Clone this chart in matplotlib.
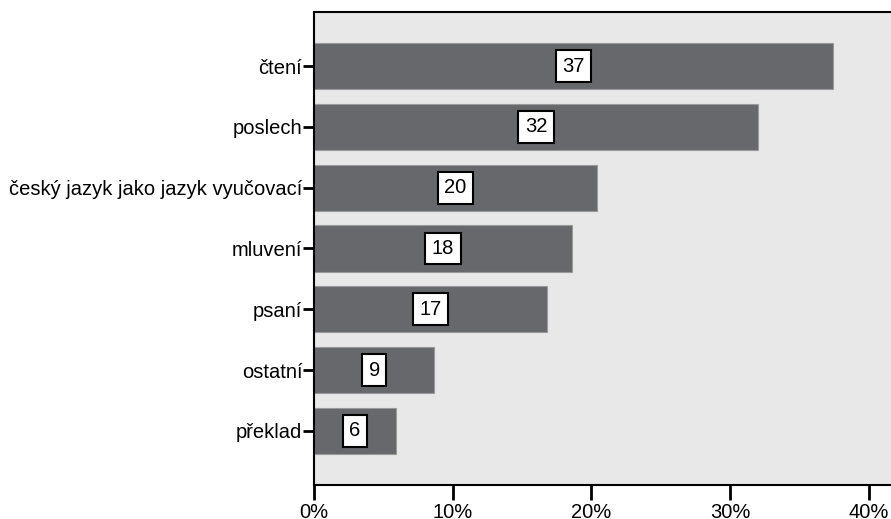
import numpy as np
import matplotlib.pyplot as plt

# Kategorie, počty odpovědí a procenta (délka pruhu)
kategorie = ["čtení", "poslech", "český jazyk jako jazyk vyučovací",
             "mluvení", "psaní", "ostatní", "překlad"]
pocty = [37, 32, 20, 18, 17, 9, 6]
procenta = [37.4, 32.0, 20.4, 18.6, 16.8, 8.67, 5.9]

plt.rcParams['font.family'] = ['Liberation Sans', 'DejaVu Sans']

fig = plt.figure(figsize=(8.91, 5.19), dpi=100)
ax = fig.add_axes([0.3524, 0.0655, 0.6476, 0.9114])
ax.set_facecolor("#e8e8e8")

y = np.arange(len(kategorie))
ax.barh(y, procenta, height=0.76, color="#67686b", edgecolor="#9a9a9c", linewidth=0.8)

# popisky s počty uprostřed pruhů
for i, (p, n) in enumerate(zip(procenta, pocty)):
    ax.text(p / 2, i, str(n), ha="center", va="center", fontsize=14.5,
            bbox=dict(boxstyle="square,pad=0.32", facecolor="white",
                      edgecolor="black", linewidth=1.5))

ax.set_xlim(0, 41.59)
ax.set_ylim(len(kategorie) - 1 + 0.89, -0.89)
ax.set_yticks(y)
ax.set_yticklabels(kategorie)
ax.set_xticks([0, 10, 20, 30, 40])
ax.set_xticklabels(["0%", "10%", "20%", "30%", "40%"])

ax.tick_params(axis="y", length=8, width=2, pad=0.5, labelsize=14.5, direction="out")
ax.tick_params(axis="x", length=11, width=2, pad=2, labelsize=14.5, direction="out")

for s in ["left", "top", "bottom"]:
    ax.spines[s].set_linewidth(1.5)
    ax.spines[s].set_color("black")
ax.spines["right"].set_visible(False)

fig.savefig("out.png", dpi=100)
